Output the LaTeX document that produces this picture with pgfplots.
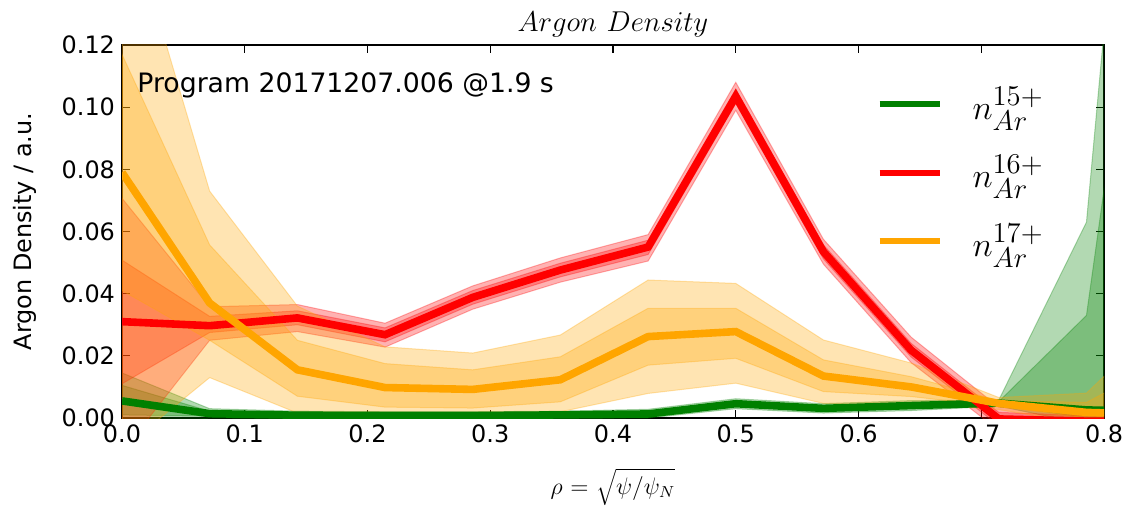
\documentclass[border=0pt]{standalone}
\usepackage[no-math]{fontspec}
\setmainfont{DejaVu Sans}
\usepackage{pgfplots}
\usepackage{pgfplotstable}
\pgfplotsset{compat=1.18}
\usepgfplotslibrary{fillbetween}

\definecolor{mgreen}{rgb}{0,0.5,0}
\definecolor{mred}{rgb}{1,0,0}
\definecolor{morange}{rgb}{1,0.647,0}

% columns: rho, centre, inner band (upper/lower), outer band (upper/lower)
\pgfplotstableread{
x      c       iu      il      ou      ol
0.0000 0.0055  0.0105  0.0010  0.0145 -0.0040
0.0714 0.0014  0.0022  0.0006  0.0030  0.0000
0.1429 0.0009  0.0015  0.0003  0.0022 -0.0003
0.2143 0.0008  0.0014  0.0002  0.0020 -0.0004
0.2857 0.0008  0.0014  0.0002  0.0020 -0.0004
0.3571 0.0010  0.0016  0.0004  0.0022 -0.0002
0.4286 0.0013  0.0020  0.0006  0.0028  0.0000
0.5000 0.0046  0.0054  0.0038  0.0062  0.0030
0.5714 0.0031  0.0038  0.0024  0.0046  0.0016
0.6429 0.0040  0.0048  0.0032  0.0056  0.0024
0.7143 0.0048  0.0053  0.0043  0.0058  0.0038
0.7857 0.0026  0.0330  0.0000  0.0630 -0.0020
0.8571 0.0020  0.2350 -0.0050  0.3700 -0.0100
}\greentab

\pgfplotstableread{
x      c       iu      il      ou      ol
0.0000 0.0310  0.0508  0.0110  0.0707 -0.0110
0.0714 0.0297  0.0327  0.0275  0.0358  0.0250
0.1429 0.0322  0.0345  0.0300  0.0365  0.0278
0.2143 0.0268  0.0290  0.0245  0.0305  0.0228
0.2857 0.0388  0.0410  0.0366  0.0425  0.0350
0.3571 0.0476  0.0498  0.0454  0.0515  0.0437
0.4286 0.0550  0.0572  0.0526  0.0590  0.0505
0.5000 0.1035  0.1058  0.1012  0.1080  0.0990
0.5714 0.0535  0.0557  0.0512  0.0575  0.0495
0.6429 0.0218  0.0240  0.0196  0.0260  0.0178
0.7143 -0.0003 0.0018 -0.0025  0.0035 -0.0040
0.7857 -0.0010 0.0008 -0.0030  0.0018 -0.0040
0.8571 -0.0010 0.0008 -0.0030  0.0018 -0.0040
}\redtab

\pgfplotstableread{
x      c       iu      il      ou      ol
0.0000 0.0790  0.1170  0.0410  0.1680 -0.0100
0.0714 0.0370  0.0557  0.0250  0.0730  0.0130
0.1429 0.0155  0.0250  0.0070  0.0360  0.0016
0.2143 0.0098  0.0175  0.0035  0.0229  0.0000
0.2857 0.0092  0.0155  0.0032  0.0209 -0.0002
0.3571 0.0123  0.0197  0.0052  0.0267  0.0020
0.4286 0.0262  0.0353  0.0170  0.0444  0.0079
0.5000 0.0278  0.0353  0.0192  0.0433  0.0112
0.5714 0.0135  0.0187  0.0085  0.0251  0.0047
0.6429 0.0100  0.0133  0.0069  0.0177  0.0048
0.7143 0.0047  0.0056  0.0037  0.0066  0.0027
0.7857 0.0018  0.0050  0.0000  0.0080 -0.0020
0.8571 0.0010  0.0200 -0.0100  0.0350 -0.0300
}\orangetab

% #1 table, #2 colour, #3 path prefix
\newcommand{\species}[3]{%
  \addplot[draw=none, forget plot, name path=#3ou] table[x=x,y=ou]{#1};
  \addplot[draw=none, forget plot, name path=#3ol] table[x=x,y=ol]{#1};
  \addplot[draw=none, forget plot, name path=#3iu] table[x=x,y=iu]{#1};
  \addplot[draw=none, forget plot, name path=#3il] table[x=x,y=il]{#1};
  \addplot[fill=#2, fill opacity=0.3, draw=#2, draw opacity=0.3, line width=0.5bp, forget plot]
    fill between[of=#3ou and #3ol];
  \addplot[fill=#2, fill opacity=0.3, draw=#2, draw opacity=0.3, line width=0.5bp, forget plot]
    fill between[of=#3iu and #3il];
  \addplot[#2, line width=3.8bp] table[x=x,y=c]{#1};
}

\begin{document}
\begin{tikzpicture}
\begin{axis}[
  scale only axis, width=491bp, height=186.5bp,
  xmin=0, xmax=0.8, ymin=0, ymax=0.12,
  xtick={0,0.1,0.2,0.3,0.4,0.5,0.6,0.7,0.8},
  xticklabels={0.0,0.1,0.2,0.3,0.4,0.5,0.6,0.7,0.8},
  ytick={0,0.02,0.04,0.06,0.08,0.1,0.12},
  yticklabels={0.00,0.02,0.04,0.06,0.08,0.10,0.12},
  /pgf/number format/assume math mode=true,
  ticklabel style={font=\fontsize{12}{14}\selectfont},
  tick align=inside, major tick length=4bp,
  tick style={line width=0.6bp, black},
  axis line style={line width=1bp},
  clip=true,
  xlabel={$\rho\ \mathsf{=}\ \sqrt{\psi/\psi_N}$},
  xlabel style={font=\fontsize{12}{14}\selectfont, at={(axis description cs:0.5,-0.185)}, anchor=center},
  ylabel={Argon Density / a.u.},
  ylabel style={font=\fontsize{12}{14}\selectfont, at={(axis description cs:-0.0988,0.5)}, anchor=center, rotate=0},
  legend style={at={(axis description cs:0.768,0.9)}, anchor=north west, draw=none, fill=none,
    font=\fontsize{19}{22}\selectfont, row sep=12.5bp, inner sep=0pt},
  legend cell align=left,
  legend image code/.code={\draw[#1, line width=3bp] (0bp,0bp) -- (30bp,0bp);},
]
\species{\greentab}{mgreen}{g}
\species{\redtab}{mred}{r}
\species{\orangetab}{morange}{o}
\legend{\hspace{13bp}$n_{Ar}^{15+}$,\hspace{13bp}$n_{Ar}^{16+}$,\hspace{13bp}$n_{Ar}^{17+}$}
\node[anchor=west, inner sep=0pt, font=\fontsize{13.4}{16}\selectfont] at (axis description cs:0.0153,0.893) {Program 20171207.006 @1.9 s};
\coordinate (tt) at (axis description cs:0.5,1.054);
\coordinate (sw) at (rel axis cs:0,0);
\coordinate (ne) at (rel axis cs:1,1);
\end{axis}
\node[anchor=center, inner sep=0pt, font=\fontsize{15.5}{18}\selectfont] at (tt) {$Argon\ Density$};
\pgfresetboundingbox
\path ([xshift=-61bp,yshift=-46bp]sw) rectangle ([xshift=14.5bp,yshift=22.5bp]ne);
\end{tikzpicture}
\end{document}
